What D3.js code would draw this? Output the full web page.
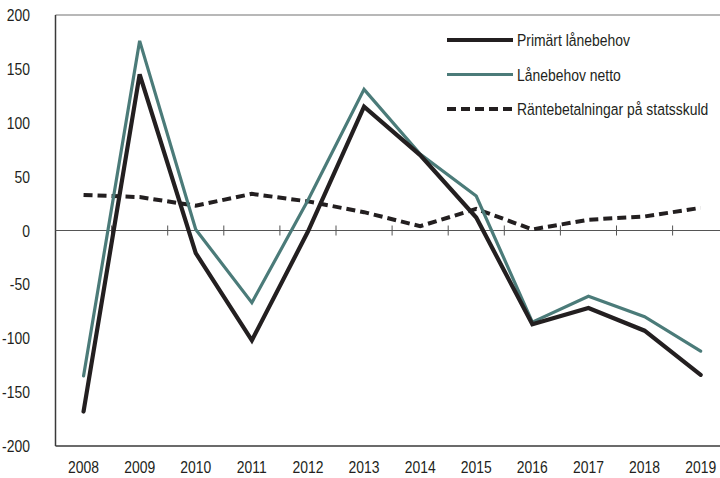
<!DOCTYPE html>
<html>
<head>
<meta charset="utf-8">
<script src="https://cdn.jsdelivr.net/npm/d3@7"></script>
<style>
  body { margin: 0; background: #fff; }
  text { font-family: "Liberation Sans", Arial, sans-serif; font-size: 17px; fill: #231f20; }
</style>
</head>
<body>
<script>
let years = ['2008', '2009', '2010', '2011', '2012', '2013', '2014', '2015', '2016', '2017', '2018', '2019']
let primart = [-168, 145, -21, -102, -1, 115, 70, 12, -87, -72, -93, -134]
let netto = [-135, 176, 1, -67, 28, 131, 71, 32, -85, -61, -80, -112]
let ranta = [33, 31, 23, 34, 27, 17, 4, 20, 1, 10, 13, 21]
let yTicks = [-200, -150, -100, -50, 0, 50, 100, 150, 200]

let series = [
  { name: 'Primärt lånebehov', values: primart, color: '#231f20', width: 4.2, dash: null },
  { name: 'Lånebehov netto', values: netto, color: '#4b7b79', width: 3.2, dash: null },
  { name: 'Räntebetalningar på statsskuld', values: ranta, color: '#231f20', width: 4, dash: '9,5' }
]

let width = 720
let height = 478
let marginLeft = 55.5
let marginTop = 15
let plotBottom = 446
let squeeze = 0.82 // the original font is a condensed face

let svg = d3.select('body')
  .append('svg')
  .attr('width', width)
  .attr('height', height)

let x = d3.scaleBand()
  .domain(years)
  .range([marginLeft, marginLeft + 12 * 56.1])

let y = d3.scaleLinear()
  .domain([-200, 200])
  .range([plotBottom, marginTop])

let place = (tx, ty) => 'translate(' + tx + ',' + ty + ') scale(' + squeeze + ',1)'

// frame
svg.append('line')
  .attr('x1', marginLeft).attr('x2', width)
  .attr('y1', marginTop).attr('y2', marginTop)
  .attr('stroke', '#a0a0a0')
  .attr('stroke-width', 1.5)

svg.append('line')
  .attr('x1', marginLeft).attr('x2', marginLeft)
  .attr('y1', marginTop).attr('y2', plotBottom)
  .attr('stroke', '#3a3a3a')
  .attr('stroke-width', 1.5)

svg.append('line')
  .attr('x1', marginLeft).attr('x2', width)
  .attr('y1', plotBottom).attr('y2', plotBottom)
  .attr('stroke', '#3a3a3a')
  .attr('stroke-width', 1.5)

// zero line with ticks between years
svg.append('line')
  .attr('x1', marginLeft).attr('x2', width)
  .attr('y1', y(0)).attr('y2', y(0))
  .attr('stroke', '#555')
  .attr('stroke-width', 1)

svg.selectAll('.tick-x')
  .data(years.slice(1))
  .enter()
  .append('line')
  .attr('class', 'tick-x')
  .attr('x1', d => x(d)).attr('x2', d => x(d))
  .attr('y1', y(0) - 5).attr('y2', y(0) + 5)
  .attr('stroke', '#555')
  .attr('stroke-width', 1)

// y labels
svg.selectAll('.ylab')
  .data(yTicks)
  .enter()
  .append('text')
  .attr('class', 'ylab')
  .attr('transform', d => place(30, y(d) + 6))
  .attr('text-anchor', 'end')
  .text(d => d)

// x labels
svg.selectAll('.xlab')
  .data(years)
  .enter()
  .append('text')
  .attr('class', 'xlab')
  .attr('transform', d => place(x(d) + x.bandwidth() / 2, 473))
  .attr('text-anchor', 'middle')
  .text(d => d)

let line = d3.line()
  .x((d, i) => x(years[i]) + x.bandwidth() / 2)
  .y(d => y(d))

// draw dashed first, then teal, then black on top
let order = [series[2], series[1], series[0]]
svg.selectAll('.series')
  .data(order)
  .enter()
  .append('path')
  .attr('class', 'series')
  .attr('d', d => line(d.values))
  .attr('fill', 'none')
  .attr('stroke', d => d.color)
  .attr('stroke-width', d => d.width)
  .attr('stroke-dasharray', d => d.dash)
  .attr('stroke-linejoin', 'miter')
  .attr('stroke-linecap', d => d.dash ? 'butt' : 'round')

// legend
let legend = svg.selectAll('.legend')
  .data(series)
  .enter()
  .append('g')
  .attr('class', 'legend')
  .attr('transform', (d, i) => 'translate(447,' + (40 + i * 34.5) + ')')

legend.append('line')
  .attr('x1', 0).attr('x2', 66)
  .attr('y1', 0).attr('y2', 0)
  .attr('stroke', d => d.color)
  .attr('stroke-width', d => d.width)
  .attr('stroke-dasharray', d => d.dash)

legend.append('text')
  .attr('transform', place(70, 6))
  .text(d => d.name)
</script>
</body>
</html>
